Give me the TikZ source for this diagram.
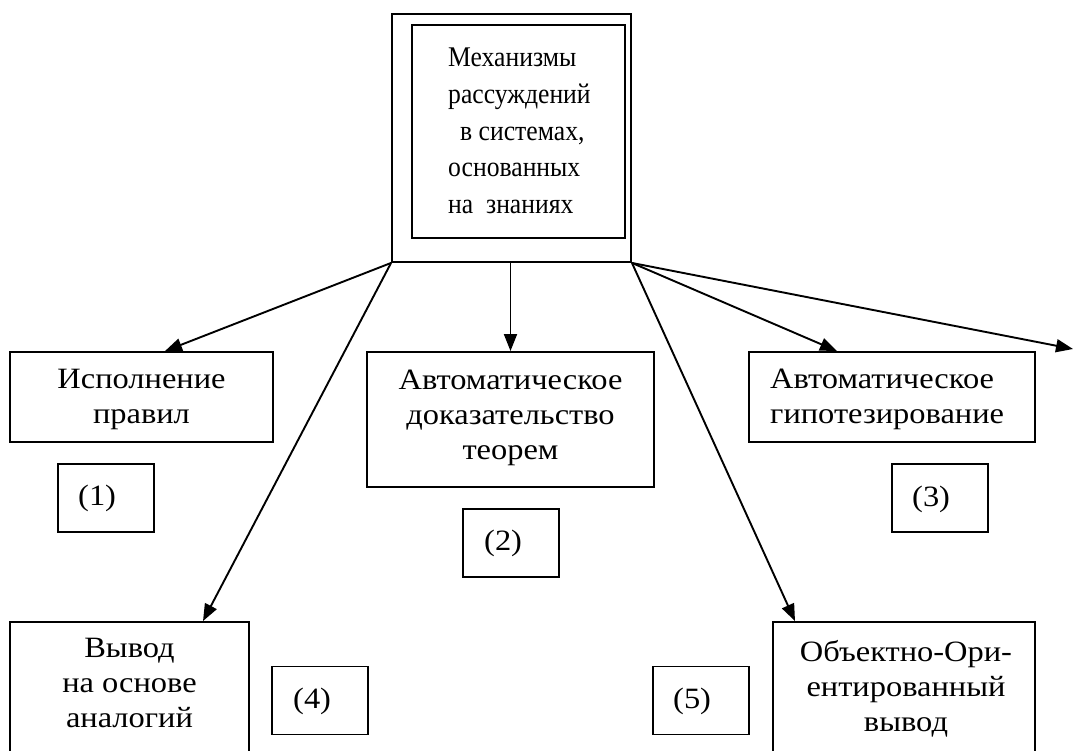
\documentclass[tikz,border=0pt]{standalone}
\usepackage{fontspec}
\setmainfont[FakeStretch=1.1]{Liberation Serif}
\newfontfamily\titlefont[FakeStretch=0.9]{Liberation Serif}
\usetikzlibrary{arrows.meta}
\tikzset{
  frame/.style={draw, line width=1.9pt, rectangle, inner sep=0pt},
  caption/.style={inner sep=0pt, align=center, font=\fontsize{29.5}{35}\selectfont},
  leftcaption/.style={caption, align=left},
  tagtext/.style={inner sep=0pt, font=\fontsize{29.5}{35}\selectfont, anchor=base west},
  link/.style={line width=1.9pt, -{Triangle[length=17pt,width=13pt]}}
}
\begin{document}
\begin{tikzpicture}[x=1pt, y=-1pt]
\useasboundingbox (0,0) rectangle (1073,751);
\clip (0,0) rectangle (1073,751);

% central concept: double frame
\node[frame, minimum width=239pt, minimum height=248pt] (mech) at (511.5,138) {};
\node[frame, minimum width=213pt, minimum height=213pt] (mechin) at (518.5,131.5) {};
\node[inner sep=0pt, align=left, anchor=west,
  font=\titlefont\fontsize{28.5}{36.75}\selectfont] (mech-t) at (448,131)
  {Механизмы\\рассуждений\\\hspace*{12pt}в системах,\\основанных\\на~ знаниях};

% reasoning methods
\node[frame, minimum width=263pt, minimum height=90pt] (rules) at (141.5,397) {};
\node[caption] (rules-t) at (141.5,399) {Исполнение\\правил};

\node[frame, minimum width=287pt, minimum height=135pt] (theorem) at (510.5,419.5) {};
\node[caption] (theorem-t) at (510.5,418) {Автоматическое\\доказательство\\теорем};

\node[frame, minimum width=286pt, minimum height=90pt] (hypo) at (892,397) {};
\node[leftcaption, anchor=west] (hypo-t) at (770,399.5) {Автоматическое\\гипотезирование};

\node[frame, minimum width=239pt, minimum height=150pt] (analogy) at (129.5,697) {};
\node[caption] (analogy-t) at (129.5,683.3) {Вывод\\на основе\\аналогий};

\node[frame, minimum width=262pt, minimum height=150pt] (oop) at (904,697) {};
\node[caption] (oop-t) at (906,688.5) {Объектно-Ори-\\ентированный\\вывод};

% numbered tags
\node[frame, minimum width=96pt, minimum height=68pt] (t1) at (106,498) {};
\node[tagtext] (t1-t) at (78,505) {(1)};
\node[frame, minimum width=96pt, minimum height=68pt] (t2) at (511,543) {};
\node[tagtext] (t2-t) at (484,550) {(2)};
\node[frame, minimum width=96pt, minimum height=68pt] (t3) at (940,498) {};
\node[tagtext] (t3-t) at (912,506) {(3)};
\node[frame, minimum width=96pt, minimum height=68pt] (t4) at (320,700.5) {};
\node[tagtext] (t4-t) at (293,708) {(4)};
\node[frame, minimum width=96pt, minimum height=68pt] (t5) at (701,700.5) {};
\node[tagtext] (t5-t) at (673,708) {(5)};

\coordinate (edge) at (1073,349);

% connectors
\draw[link] (mech.south west) -- ([xshift=23.5pt]rules.north);
\draw[link] (mech.south west) -- ([xshift=73.5pt]analogy.north);
\draw[link] ([xshift=-1pt]mech.south) -- (theorem.north);
\draw[link] (mech.south east) -- ([xshift=-55pt]hypo.north);
\draw[link] (mech.south east) -- (edge);
\draw[link] (mech.south east) -- ([xshift=-109pt]oop.north);
\end{tikzpicture}
\end{document}
